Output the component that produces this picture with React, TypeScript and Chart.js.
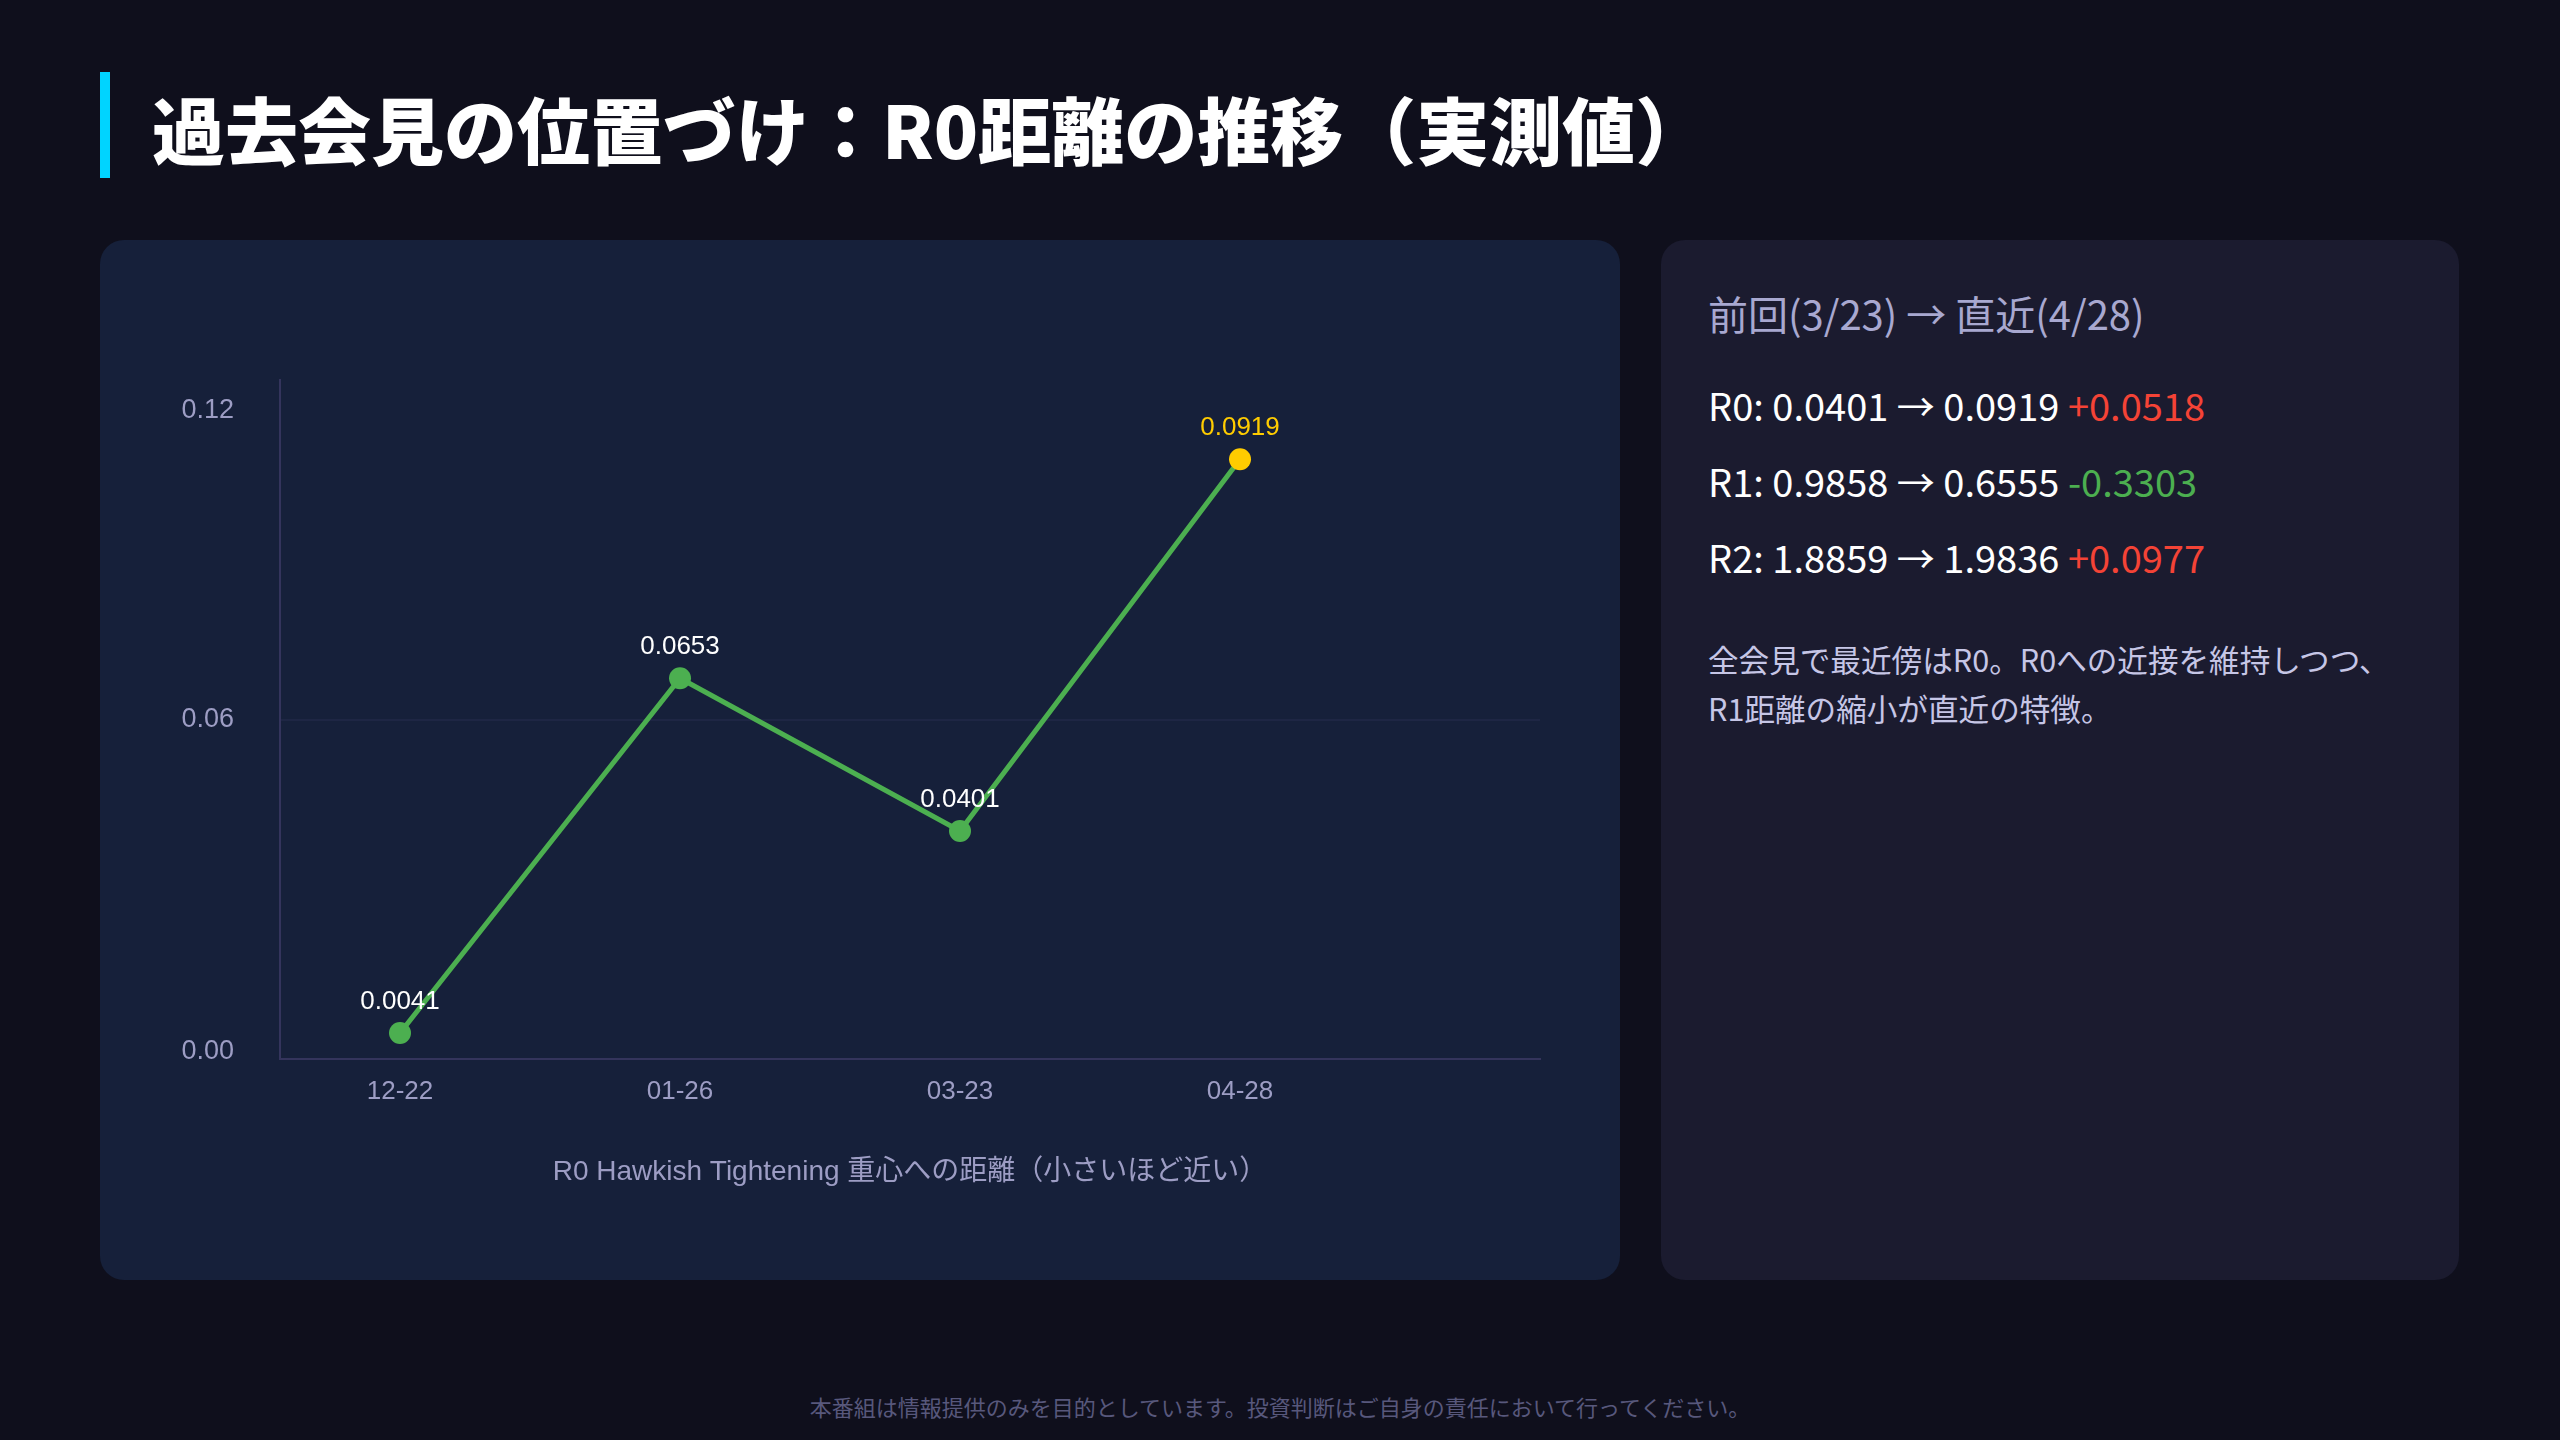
import { useEffect, useRef } from 'react';
import { Chart, registerables } from 'chart.js';
import type { Plugin, ScriptableScaleContext } from 'chart.js';

Chart.register(...registerables);

// meetings on the x axis
const dates = ['12-22', '01-26', '03-23', '04-28'];
// R0 distance as drawn on the chart (read from the point positions)
const r0Distance = [0.0046, 0.0673, 0.0403, 0.106];
// values printed above each point
const r0Labels = ['0.0041', '0.0653', '0.0401', '0.0919'];
const yTicks = [0, 0.06, 0.12];

// side panel: previous (3/23) vs latest (4/28)
const rowNames = ['R0', 'R1', 'R2'];
const prevValues = [0.0401, 0.9858, 1.8859];
const latestValues = [0.0919, 0.6555, 1.9836];

const PAGE_BG = '#0f0f1c';
const CARD_BG = '#16203a';
const PANEL_BG = '#1b1b2f';
const GREEN = '#4caf50';
const YELLOW = '#ffcc00';
const RED = '#f44336';
const LAVENDER = '#9d9dc4';
const AXIS = '#34345c';
const GRID = 'rgba(90,80,150,0.12)';
const CHART_FONT = "'Liberation Sans', Arial, 'Noto Sans CJK JP', sans-serif";
const UI_FONT = "'Noto Sans CJK JP', 'Noto Sans', sans-serif";

const latestIndex = dates.length - 1;

const pointLabels: Plugin<'line'> = {
  id: 'pointLabels',
  afterDatasetsDraw(chart) {
    const { ctx } = chart;
    const meta = chart.getDatasetMeta(0);
    ctx.save();
    ctx.font = `26px ${CHART_FONT}`;
    ctx.textAlign = 'center';
    ctx.textBaseline = 'middle';
    meta.data.forEach((pt, i) => {
      ctx.fillStyle = i === latestIndex ? YELLOW : '#ffffff';
      ctx.fillText(r0Labels[i], pt.x, pt.y - 31);
    });
    ctx.restore();
  },
};

// first/last y labels sit inside the axis ends
function yTickFont(ctx: ScriptableScaleContext) {
  const last = yTicks.length - 1;
  const lineHeight = ctx.index === 0 ? '14px' : ctx.index === last ? '62px' : 1.2;
  return { family: CHART_FONT, size: 27, lineHeight };
}

function R0Chart() {
  const ref = useRef<HTMLCanvasElement>(null);

  useEffect(() => {
    if (!ref.current) return;
    const chart = new Chart(ref.current, {
      type: 'line',
      data: {
        datasets: [{
          label: 'R0距離',
          data: dates.map((_, i) => ({ x: i, y: r0Distance[i] })),
          borderColor: GREEN,
          borderWidth: 5,
          pointRadius: 11,
          pointHoverRadius: 11,
          pointBorderWidth: 0,
          pointBackgroundColor: dates.map((_, i) => (i === latestIndex ? YELLOW : GREEN)),
          tension: 0,
        }],
      },
      options: {
        responsive: false,
        animation: false,
        layout: { padding: { left: 80, right: 80, top: 140, bottom: 91 } },
        plugins: { legend: { display: false }, tooltip: { enabled: false } },
        scales: {
          x: {
            type: 'linear',
            min: -0.4286,
            max: 4.0714,
            afterBuildTicks: (axis) => { axis.ticks = dates.map((_, i) => ({ value: i })); },
            afterFit: (axis) => { axis.height = 130; },
            grid: { display: false, drawTicks: false },
            border: { color: AXIS, width: 2 },
            ticks: {
              color: LAVENDER,
              padding: 17,
              font: { family: CHART_FONT, size: 26 },
              callback: (v) => dates[Number(v)] ?? '',
            },
            title: {
              display: true,
              text: 'R0 Hawkish Tightening 重心への距離（小さいほど近い）',
              color: LAVENDER,
              font: { family: CHART_FONT, size: 28 },
              padding: 0,
            },
          },
          y: {
            min: 0,
            max: 0.12,
            afterBuildTicks: (axis) => { axis.ticks = yTicks.map((v) => ({ value: v })); },
            afterFit: (axis) => { axis.width = 100; },
            grid: {
              drawTicks: false,
              lineWidth: 2,
              color: (c) => (c.index > 0 && c.index < yTicks.length - 1 ? GRID : 'transparent'),
            },
            border: { color: AXIS, width: 2 },
            ticks: {
              color: LAVENDER,
              padding: 46,
              font: yTickFont,
              callback: (v, i) => {
                const txt = Number(v).toFixed(2);
                if (i === 0) return [txt, ''];
                if (i === yTicks.length - 1) return ['', txt];
                return txt;
              },
            },
          },
        },
      },
      plugins: [pointLabels],
    });
    return () => chart.destroy();
  }, []);

  return <canvas ref={ref} width={1520} height={1040} style={{ display: 'block' }} />;
}

function fmtDelta(d: number) {
  return (d >= 0 ? '+' : '-') + Math.abs(d).toFixed(4);
}

export default function App() {
  return (
    <div style={{ position: 'fixed', left: 0, top: 0, width: 2560, height: 1440, background: PAGE_BG, fontFamily: UI_FONT, overflow: 'hidden' }}>
      <div style={{ position: 'absolute', left: 100, top: 72, width: 10, height: 106, background: '#00d4ff' }} />
      <div style={{ position: 'absolute', left: 152, top: 74, height: 106, lineHeight: '106px', fontSize: 73, fontWeight: 900, color: '#ffffff', whiteSpace: 'nowrap' }}>
        過去会見の位置づけ：R0距離の推移（実測値）
      </div>

      <div style={{ position: 'absolute', left: 100, top: 240, width: 1520, height: 1040, borderRadius: 24, background: CARD_BG, overflow: 'hidden' }}>
        <R0Chart />
      </div>

      <div style={{ position: 'absolute', left: 1661, top: 240, width: 798, height: 1040, borderRadius: 24, background: PANEL_BG }}>
        <div style={{ position: 'absolute', left: 47, top: 48, lineHeight: '50px', fontSize: 40, color: '#a8a8d0', whiteSpace: 'nowrap' }}>
          前回(3/23) → 直近(4/28)
        </div>
        {rowNames.map((name, i) => {
          const d = latestValues[i] - prevValues[i];
          return (
            <div key={name} style={{ position: 'absolute', left: 47, top: 140 + i * 76, lineHeight: '50px', fontSize: 38, color: '#ffffff', whiteSpace: 'nowrap' }}>
              {name}: {prevValues[i].toFixed(4)} → {latestValues[i].toFixed(4)}{' '}
              <span style={{ color: d >= 0 ? RED : GREEN }}>{fmtDelta(d)}</span>
            </div>
          );
        })}
        <div style={{ position: 'absolute', left: 47, top: 395, lineHeight: '49px', fontSize: 30.6, color: '#c6c6e6', whiteSpace: 'nowrap' }}>
          全会見で最近傍はR0。R0への近接を維持しつつ、<br />
          R1距離の縮小が直近の特徴。
        </div>
      </div>

      <div style={{ position: 'absolute', left: 0, top: 1391, width: 2560, lineHeight: '30px', textAlign: 'center', fontSize: 22, color: '#58587c' }}>
        本番組は情報提供のみを目的としています。投資判断はご自身の責任において行ってください。
      </div>
    </div>
  );
}
